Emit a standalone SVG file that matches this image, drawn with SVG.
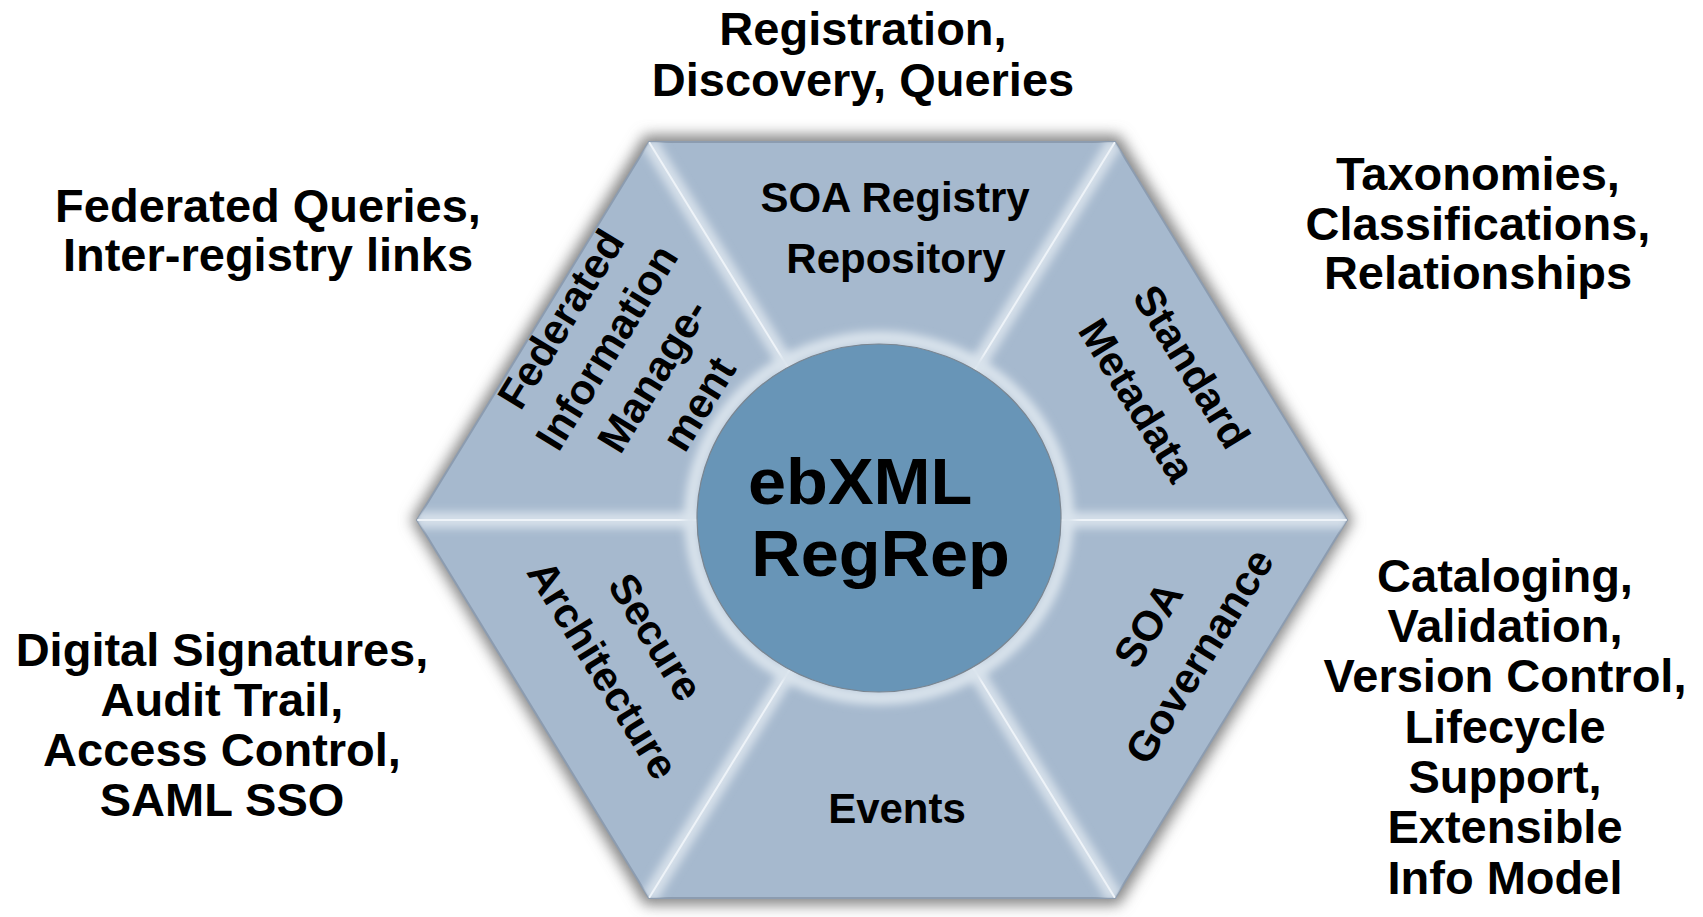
<svg xmlns="http://www.w3.org/2000/svg" width="1703" height="917" viewBox="0 0 1703 917">
  <style>
    .lbl { font-family: "Liberation Sans", Arial, Helvetica, sans-serif; font-weight: bold; fill: #000; text-anchor: middle; }
    .outer { font-size: 47px; }
    .inner { font-size: 42px; }
    .core { font-size: 64px; text-anchor: start; }
    .seg { fill: #a6b9ce; }
    .divider-glow { stroke: #d6e0ea; stroke-width: 16; fill: none; }
    .divider { stroke: #eef3f8; stroke-width: 2; fill: none; }
  </style>
  <defs>
    <filter id="soft-shadow" x="-10%" y="-10%" width="120%" height="120%">
      <feGaussianBlur stdDeviation="7"/>
    </filter>
    <filter id="glow" x="-20%" y="-20%" width="140%" height="140%">
      <feGaussianBlur stdDeviation="4"/>
    </filter>
    <clipPath id="hex-clip">
      <polygon points="417,520 649,142 1115,142 1347,520 1115,898 649,898"/>
    </clipPath>
  </defs>

  <rect width="1703" height="917" fill="#fff"/>

  <!-- drop shadow under the hexagon -->
  <polygon points="411,520 645,135 1119,135 1353,520 1119,905 645,905" fill="#858585" filter="url(#soft-shadow)"/>

  <!-- hexagon segments -->
  <g id="seg-registry">
    <polygon class="seg" points="649,142 1115,142 882,520"/>
  </g>
  <g id="seg-metadata">
    <polygon class="seg" points="1115,142 1347,520 882,520"/>
  </g>
  <g id="seg-governance">
    <polygon class="seg" points="1347,520 1115,898 882,520"/>
  </g>
  <g id="seg-events">
    <polygon class="seg" points="1115,898 649,898 882,520"/>
  </g>
  <g id="seg-secure">
    <polygon class="seg" points="649,898 417,520 882,520"/>
  </g>
  <g id="seg-federated">
    <polygon class="seg" points="417,520 649,142 882,520"/>
  </g>

  <!-- rim of the hexagon -->
  <polygon points="417,520 649,142 1115,142 1347,520 1115,898 649,898" fill="none" stroke="#8c9cb0" stroke-width="2"/>

  <!-- bevelled dividers between segments -->
  <g id="dividers" clip-path="url(#hex-clip)">
    <g filter="url(#glow)">
      <line class="divider-glow" x1="649" y1="142" x2="882" y2="520"/>
      <line class="divider-glow" x1="1115" y1="142" x2="882" y2="520"/>
      <line class="divider-glow" x1="1347" y1="520" x2="882" y2="520"/>
      <line class="divider-glow" x1="1115" y1="898" x2="882" y2="520"/>
      <line class="divider-glow" x1="649" y1="898" x2="882" y2="520"/>
      <line class="divider-glow" x1="417" y1="520" x2="882" y2="520"/>
    </g>
    <line class="divider" x1="649" y1="142" x2="882" y2="520"/>
    <line class="divider" x1="1115" y1="142" x2="882" y2="520"/>
    <line class="divider" x1="1347" y1="520" x2="882" y2="520"/>
    <line class="divider" x1="1115" y1="898" x2="882" y2="520"/>
    <line class="divider" x1="649" y1="898" x2="882" y2="520"/>
    <line class="divider" x1="417" y1="520" x2="882" y2="520"/>
  </g>

  <!-- central hub -->
  <g id="hub">
    <ellipse cx="879" cy="518" rx="188" ry="180" fill="none" stroke="#d9e3ec" stroke-width="14" filter="url(#glow)"/>
    <ellipse cx="879" cy="518" rx="182" ry="174" fill="#6895b7" stroke="#7a8590" stroke-width="1.2"/>
    <g transform="translate(748,0) scale(1.07,1) translate(-748,0)">
      <text class="lbl core" x="748" y="504">ebXML</text>
      <text class="lbl core" x="751" y="576">RegRep</text>
    </g>
  </g>

  <!-- segment captions -->
  <g id="cap-registry">
    <text class="lbl inner" x="895" y="212">SOA Registry</text>
    <text class="lbl inner" x="896" y="273">Repository</text>
  </g>
  <g id="cap-metadata" transform="translate(1152,391) rotate(58.4)">
    <text class="lbl inner" x="0" y="-32">Standard</text>
    <text class="lbl inner" x="0" y="32">Metadata</text>
  </g>
  <g id="cap-governance" transform="translate(1186,648) rotate(-58.4)">
    <text class="lbl inner" x="0" y="-30">SOA</text>
    <text class="lbl inner" x="0" y="30">Governance</text>
  </g>
  <g id="cap-events">
    <text class="lbl inner" x="897" y="823">Events</text>
  </g>
  <g id="cap-secure" transform="translate(617,661) rotate(58.4)">
    <text class="lbl inner" x="0" y="-31">Secure</text>
    <text class="lbl inner" x="0" y="31">Architecture</text>
  </g>
  <g id="cap-federated" transform="translate(642,369) rotate(-58.4)">
    <text class="lbl inner" x="0" y="-81">Federated</text>
    <text class="lbl inner" x="0" y="-27">Information</text>
    <text class="lbl inner" x="0" y="27">Manage-</text>
    <text class="lbl inner" x="0" y="81">ment</text>
  </g>

  <!-- feature lists around the hexagon -->
  <g id="note-registration">
    <text class="lbl outer" x="863" y="45">Registration,</text>
    <text class="lbl outer" x="863" y="96">Discovery, Queries</text>
  </g>
  <g id="note-taxonomies">
    <text class="lbl outer" x="1478" y="190">Taxonomies,</text>
    <text class="lbl outer" x="1478" y="240">Classifications,</text>
    <text class="lbl outer" x="1478" y="289">Relationships</text>
  </g>
  <g id="note-federation">
    <text class="lbl outer" x="268" y="222">Federated Queries,</text>
    <text class="lbl outer" x="268" y="271">Inter-registry links</text>
  </g>
  <g id="note-security">
    <text class="lbl outer" x="222" y="666">Digital Signatures,</text>
    <text class="lbl outer" x="222" y="716">Audit Trail,</text>
    <text class="lbl outer" x="222" y="766">Access Control,</text>
    <text class="lbl outer" x="222" y="816">SAML SSO</text>
  </g>
  <g id="note-governance">
    <text class="lbl outer" x="1505" y="592">Cataloging,</text>
    <text class="lbl outer" x="1505" y="642">Validation,</text>
    <text class="lbl outer" x="1505" y="692">Version Control,</text>
    <text class="lbl outer" x="1505" y="743">Lifecycle</text>
    <text class="lbl outer" x="1505" y="793">Support,</text>
    <text class="lbl outer" x="1505" y="843">Extensible</text>
    <text class="lbl outer" x="1505" y="894">Info Model</text>
  </g>
</svg>
